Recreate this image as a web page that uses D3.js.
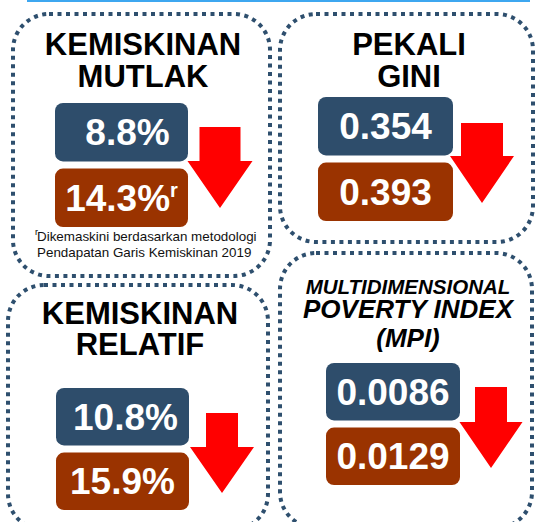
<!DOCTYPE html>
<html>
<head>
<meta charset="utf-8">
<script src="https://cdn.jsdelivr.net/npm/d3@7"></script>
<style>
  body { margin: 0; background: #fff; }
  svg text { font-family: Arial, "Liberation Sans", sans-serif; font-weight: bold; }
</style>
</head>
<body>
<div id="chart"></div>
<script>
// indicator titles (one entry per panel, each line separately)
var titles = [
  ["KEMISKINAN", "MUTLAK"],
  ["PEKALI", "GINI"],
  ["KEMISKINAN", "RELATIF"],
  ["MULTIDIMENSIONAL", "POVERTY INDEX", "(MPI)"]
];
// latest value (blue box) and earlier value (brown box)
var currentValues = ["8.8%", "0.354", "10.8%", "0.0086"];
var previousValues = ["14.3%", "0.393", "15.9%", "0.0129"];
var previousMarks = ["r", "", "", ""];
var footnote = ["Dikemaskini berdasarkan metodologi", "Pendapatan Garis Kemiskinan 2019"];

var svgWidth = 535, svgHeight = 522;

var svg = d3.select("#chart").append("svg")
  .attr("width", svgWidth)
  .attr("height", svgHeight);

// layout of each panel (pixels)
var layout = [
  { x: 13, y: 14, w: 257, h: 262,
    titleX: 143, titleY: [55, 87], titleSize: [31, 31], italic: false,
    boxX: 55, boxW: 133, boxY: [103, 227], dx: [6, 0],
    arrow: { cx: 220, shaftW: 41, headW: 65, top: 127, headTop: 161, tip: 208 } },
  { x: 280, y: 14, w: 253, h: 228,
    titleX: 409, titleY: [55, 87], titleSize: [31, 31], italic: false,
    boxX: 318, boxW: 135, boxY: [97, 221], dx: [0, 0],
    arrow: { cx: 482, shaftW: 42, headW: 64, top: 123, headTop: 156, tip: 203 } },
  { x: 8, y: 285, w: 260, h: 245,
    titleX: 140, titleY: [324, 355], titleSize: [31, 31], italic: false,
    boxX: 56, boxW: 133, boxY: [388, 510], dx: [3, 0],
    arrow: { cx: 222, shaftW: 32, headW: 64, top: 413, headTop: 447, tip: 493 } },
  { x: 280, y: 253, w: 252, h: 275,
    titleX: 408, titleY: [294, 318, 347], titleSize: [20.5, 26, 26], italic: true,
    boxX: 326, boxW: 134, boxY: [363, 485], dx: [0, 0],
    arrow: { cx: 491, shaftW: 32, headW: 63, top: 387, headTop: 422, tip: 468 } }
];

// thin blue rule along the top
svg.append("rect")
  .attr("x", 27).attr("y", 0)
  .attr("width", 503).attr("height", 2)
  .attr("fill", "#3ea7f0");

var rows = ["current", "previous"];

layout.forEach(function(p, i) {
  var g = svg.append("g");

  // dotted rounded frame
  g.append("rect")
    .attr("x", p.x).attr("y", p.y)
    .attr("width", p.w).attr("height", p.h)
    .attr("rx", 36).attr("ry", 36)
    .attr("fill", "none")
    .attr("stroke", "#2e4f6e")
    .attr("stroke-width", 4)
    .attr("stroke-dasharray", "4 4.5");

  // title lines
  g.selectAll(".title")
    .data(titles[i])
    .enter().append("text")
      .attr("class", "title")
      .attr("x", p.titleX)
      .attr("y", (d, j) => p.titleY[j])
      .attr("text-anchor", "middle")
      .attr("font-size", (d, j) => p.titleSize[j])
      .attr("font-style", p.italic ? "italic" : "normal")
      .attr("fill", "#000")
      .text(d => d);

  // two value boxes stacked with a band scale
  var yBand = d3.scaleBand()
    .domain(rows)
    .range(p.boxY)
    .paddingInner(0.11);

  var vals = [currentValues[i], previousValues[i]];
  var colors = ["#2e4d6b", "#9a3300"];

  var box = g.selectAll(".box")
    .data(rows)
    .enter().append("g")
      .attr("class", "box");

  box.append("rect")
    .attr("x", p.boxX)
    .attr("y", d => yBand(d))
    .attr("width", p.boxW)
    .attr("height", yBand.bandwidth())
    .attr("rx", 8).attr("ry", 8)
    .attr("fill", (d, j) => colors[j]);

  var label = box.append("text")
    .attr("x", (d, j) => p.boxX + p.boxW / 2 + p.dx[j])
    .attr("y", d => yBand(d) + yBand.bandwidth() / 2 + 13)
    .attr("text-anchor", "middle")
    .attr("font-size", 37)
    .attr("fill", "#fff");

  label.append("tspan").text((d, j) => vals[j]);
  label.filter((d, j) => j === 1 && previousMarks[i])
    .append("tspan")
      .attr("dy", -14)
      .attr("font-size", 20)
      .text(previousMarks[i]);

  // red down arrow
  var a = p.arrow;
  var pts = [
    [a.cx - a.shaftW / 2, a.top],
    [a.cx + a.shaftW / 2, a.top],
    [a.cx + a.shaftW / 2, a.headTop],
    [a.cx + a.headW / 2, a.headTop],
    [a.cx, a.tip],
    [a.cx - a.headW / 2, a.headTop],
    [a.cx - a.shaftW / 2, a.headTop]
  ];
  g.append("path")
    .attr("d", d3.line()(pts) + "Z")
    .attr("fill", "#ff0000");
});

// footnote under the first panel
var note = svg.append("g");
note.append("text")
  .attr("x", 35).attr("y", 235)
  .attr("font-size", 9)
  .style("font-weight", "normal")
  .attr("fill", "#000")
  .text("r");
note.selectAll(".note")
  .data(footnote)
  .enter().append("text")
    .attr("class", "note")
    .attr("x", 37)
    .attr("y", (d, j) => 241 + j * 16)
    .attr("font-size", 13.4)
    .style("font-weight", "normal")
    .attr("fill", "#111")
    .text(d => d);
</script>
</body>
</html>
